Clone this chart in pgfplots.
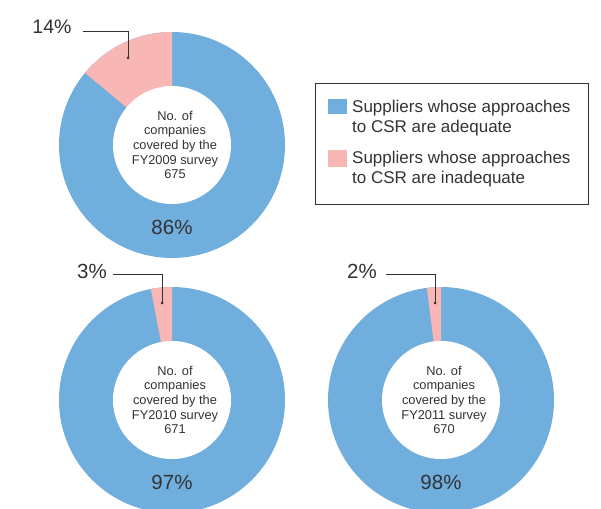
\documentclass[border=0pt]{standalone}
\usepackage{pgfplots}
\pgfplotsset{compat=1.18}
\usepackage{fontspec}
\setmainfont{Liberation Sans}
\definecolor{adeq}{RGB}{111,174,221}
\definecolor{inadeq}{RGB}{248,182,180}
\definecolor{txt}{RGB}{51,51,51}
\definecolor{titlered}{RGB}{238,86,108}
% #1 cx, #2 cy, #3 inadequate %, #4 adequate %, #5 year, #6 count
\newcommand{\donut}[6]{%
  \fill[adeq] (axis cs:#1,#2) circle[radius=113pt];
  \fill[inadeq] (axis cs:#1,#2) -- ++(90:113pt) arc[start angle=90, end angle={90+3.6*#3}, radius=113pt] -- cycle;
  \fill[white] (axis cs:#1,#2) circle[radius=59pt];
  \node[text=txt, align=center, inner sep=0pt, font=\fontsize{12.8}{14.7}\selectfont] at (axis cs:#1+3,#2) {No. of\\companies\\covered by the\\FY#5 survey\\#6};
  \node[text=txt, inner sep=0pt, font=\fontsize{20.5}{24}\selectfont] at (axis cs:#1,#2-82) {#4\%};
}
\begin{document}
\begin{tikzpicture}
\begin{axis}[
  x=1pt, y=1pt,
  xmin=0, xmax=601, ymin=0, ymax=508,
  axis lines=none, xtick=\empty, ytick=\empty,
  clip=true,
]
\addplot[draw=none, forget plot] coordinates {(0,0) (601,508)};
% partial red title (cut off at top)
\node[anchor=base, text=titlered, inner sep=0pt, font=\fontsize{26}{30}\selectfont\bfseries] at (axis cs:396,513) {y};

\donut{172}{363}{14}{86}{2009}{675}
\donut{172}{108}{3}{97}{2010}{671}
\donut{441}{108}{2}{98}{2011}{670}

% callouts
\begin{scope}[draw=txt, line width=0.8pt]
\node[text=txt, inner sep=0pt, font=\fontsize{19.5}{22}\selectfont] at (axis cs:52,481) {14\%};
\draw (axis cs:83,477) -- (axis cs:128,477) -- (axis cs:128,450);
\fill[txt] (axis cs:128,450) circle[radius=1.5pt];
\node[text=txt, inner sep=0pt, font=\fontsize{20.5}{22}\selectfont] at (axis cs:92,237) {3\%};
\draw (axis cs:113,234) -- (axis cs:162,234) -- (axis cs:162,205);
\fill[txt] (axis cs:162,205) circle[radius=1.5pt];
\node[text=txt, inner sep=0pt, font=\fontsize{20.5}{22}\selectfont] at (axis cs:362,237) {2\%};
\draw (axis cs:386,234) -- (axis cs:435,234) -- (axis cs:435,205);
\fill[txt] (axis cs:435,205) circle[radius=1.5pt];
\end{scope}

% legend
\draw[txt, line width=0.8pt] (axis cs:315,425) rectangle (axis cs:588,304);
\fill[adeq] (axis cs:328,409) rectangle (axis cs:347,394);
\fill[inadeq] (axis cs:328,358) rectangle (axis cs:347,341);
\node[anchor=west, align=left, text=txt, inner sep=0pt, font=\fontsize{17}{20}\selectfont] at (axis cs:352,390) {Suppliers whose approaches\\to CSR are adequate};
\node[anchor=west, align=left, text=txt, inner sep=0pt, font=\fontsize{17}{20}\selectfont] at (axis cs:352,338.5) {Suppliers whose approaches\\to CSR are inadequate};
\end{axis}
\end{tikzpicture}
\end{document}
